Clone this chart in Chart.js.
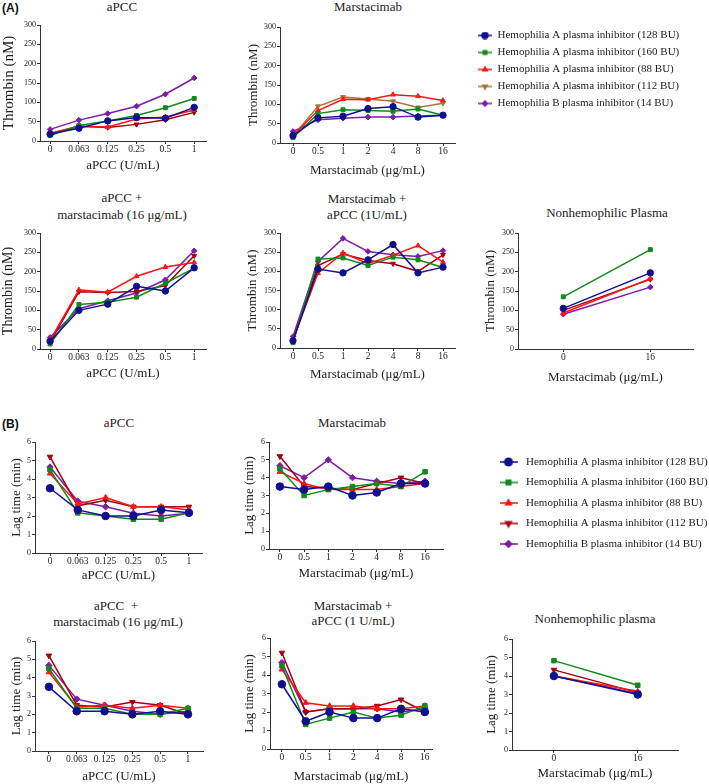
<!DOCTYPE html>
<html><head><meta charset="utf-8">
<script src="https://cdn.jsdelivr.net/npm/chart.js@4.4.1/dist/chart.umd.min.js"></script>
<style>
body{margin:0;background:#fff;}
#page{position:relative;width:709px;height:784px;overflow:hidden;background:#fff;font-family:"Liberation Serif","Times New Roman",serif;color:#222;}
canvas{position:absolute;}
.t{position:absolute;transform:translate(-50%,-50%);white-space:pre;font-size:13px;line-height:16px;}
.p{position:absolute;font-family:"Liberation Sans",Arial,sans-serif;font-weight:bold;font-size:12px;color:#111;}
</style></head><body><div id="page"></div>
<script>
// ---------- categories ----------
const aPCC_cats = ['0','0.063','0.125','0.25','0.5','1'];
const marst_cats = ['0','0.5','1','2','4','8','16'];
const nonhemo_cats = ['0','16'];

// ---------- series (order: 128 BU, 160 BU, 88 BU, 112 BU, 14 BU) ----------
const seriesNames = [
  'Hemophilia A plasma inhibitor (128 BU)',
  'Hemophilia A plasma inhibitor (160 BU)',
  'Hemophilia A plasma inhibitor (88 BU)',
  'Hemophilia A plasma inhibitor (112 BU)',
  'Hemophilia B plasma inhibitor (14 BU)'
];

// ---------- (A) thrombin peak, nM ----------
const thrombin_aPCC = [
  [18, 33, 52, 61, 59, 87],
  [14, 40, 52, 66, 86, 110],
  [20, 38, 36, 57, 62, 80],
  [18, 38, 35, 43, 55, 74],
  [30, 54, 71, 90, 121, 163]
];
const thrombin_marst = [
  [19, 65, 69, 89, 94, 67, 72],
  [14, 76, 86, 84, 82, 88, 72],
  [20, 84, 113, 112, 125, 121, 110],
  [18, 95, 119, 114, 108, 92, 103],
  [30, 60, 64, 67, 67, 70, 72]
];
const thrombin_aPCC_marst16 = [
  [20, 100, 116, 162, 150, 210],
  [13, 115, 121, 134, 170, 209],
  [22, 153, 147, 188, 212, 224],
  [18, 148, 146, 149, 164, 241],
  [30, 104, 125, 145, 179, 254]
];
const thrombin_marst_aPCC1 = [
  [19, 206, 196, 230, 270, 196, 211],
  [14, 232, 235, 215, 237, 230, 210],
  [22, 195, 248, 220, 242, 267, 224],
  [18, 215, 245, 228, 220, 200, 243],
  [30, 226, 286, 252, 243, 239, 254]
];
const thrombin_nonhemo = [
  [105, 197],
  [135, 257],
  [93, 182],
  [100, 180],
  [90, 160]
];

// ---------- (B) lag time, min ----------
const lag_aPCC = [
  [3.5, 2.33, 2.0, 2.0, 2.33, 2.17],
  [4.5, 2.17, 2.0, 1.83, 1.83, 2.17],
  [4.3, 2.65, 3.0, 2.5, 2.5, 2.33],
  [5.2, 2.55, 2.85, 2.5, 2.5, 2.5],
  [4.65, 2.8, 2.5, 2.15, 2.0, 2.15]
];
const lag_marst = [
  [3.5, 3.33, 3.5, 3.0, 3.17, 3.67, 3.67],
  [4.5, 3.0, 3.33, 3.5, 3.67, 3.5, 4.33],
  [4.33, 3.67, 3.33, 3.33, 3.33, 3.5, 3.67],
  [5.2, 3.5, 3.4, 3.33, 3.67, 4.0, 3.67],
  [4.67, 4.0, 5.0, 4.0, 3.8, 3.67, 3.8]
];
const lag_aPCC_marst16 = [
  [3.5, 2.17, 2.17, 2.0, 2.17, 2.0],
  [4.5, 2.33, 2.33, 2.0, 2.0, 2.33],
  [4.3, 2.4, 2.5, 2.33, 2.5, 2.33],
  [5.2, 2.5, 2.4, 2.67, 2.5, 2.0],
  [4.67, 2.83, 2.5, 2.17, 2.0, 2.17]
];
const lag_marst_aPCC1 = [
  [3.5, 1.5, 2.0, 1.67, 1.67, 2.17, 2.0],
  [4.5, 1.33, 1.67, 2.0, 1.67, 1.83, 2.33],
  [4.3, 2.5, 2.33, 2.33, 2.17, 2.17, 2.33],
  [5.2, 2.0, 2.17, 2.17, 2.33, 2.67, 2.0],
  [4.67, 2.0, 2.17, 2.17, 2.17, 2.0, 2.17]
];
const lag_nonhemo = [
  [4.0, 3.0],
  [4.83, 3.5],
  [4.0, 3.17],
  [4.33, 3.1],
  [4.0, 3.05]
];

// ---------- styles ----------
const FAM = "'Liberation Serif', 'Times New Roman', serif";
const BLUE='#10108f', GREEN='#12891a', RED='#ff1414', DRED='#a3000c', PURPLE='#7c1ca8', BROWN='#a5773a';
const colorsStd = [BLUE, GREEN, RED, DRED, PURPLE];
const colorsBrown = [BLUE, GREEN, RED, BROWN, PURPLE];
const markers = ['circle','rect','triangle','triangle','rectRot'];
const rotations = [0,0,0,180,0];

const page = document.getElementById('page');
Chart.defaults.font.family = FAM;
Chart.defaults.color = '#222';

function addText(cls, text, x, y){
  const d = document.createElement('div');
  d.className = cls; d.textContent = text;
  d.style.left = x+'px'; d.style.top = y+'px';
  page.appendChild(d);
}

function makeChart(sp){
  const lh = s => s*1.2;
  const cx = Math.max(0, Math.round(sp.yTx - lh(sp.yTs)/2));
  const cy = sp.T - 10;
  const padR = 15;
  const cw = sp.R + padR - cx;
  const ch = Math.round(sp.xTy + lh(sp.xTs)/2) - cy;
  const Wy = sp.L - cx;
  const Hx = cy + ch - sp.B;
  const cv = document.createElement('canvas');
  cv.width = cw; cv.height = ch;
  cv.style.left = cx+'px'; cv.style.top = cy+'px';
  page.appendChild(cv);
  const big = sp.big;
  const datasets = sp.values.map((vals, i) => ({
    label: seriesNames[i],
    data: vals.map((v, j) => ({x: j, y: v})),
    borderColor: sp.colors[i],
    backgroundColor: sp.colors[i],
    pointStyle: markers[i],
    pointRotation: rotations[i],
    pointRadius: i === 0 ? (big ? 3.8 : 3.2) : (big ? 3.2 : 2.8),
    pointBorderWidth: 1,
    borderWidth: 1.5,
    tension: 0
  }));
  const axisCol = '#333';
  new Chart(cv, {
    type: 'line',
    data: {datasets},
    options: {
      responsive: false, animation: false, events: [],
      layout: {padding: {left: 0, top: 10, right: padR, bottom: 0}},
      plugins: {legend: {display: false}, tooltip: {enabled: false}},
      scales: {
        x: {
          type: 'linear', min: sp.xmin, max: sp.xmax,
          afterBuildTicks: s => { s.ticks = sp.cats.map((c, i) => ({value: i})); },
          afterFit: s => { s.height = Hx; },
          ticks: {callback: v => sp.cats[v], autoSkip: false, maxRotation: 0, padding: 0,
                  font: {family: FAM, size: 9.5}, color: '#222'},
          grid: {display: true, drawOnChartArea: false, drawTicks: true, tickLength: 3, color: axisCol, tickColor: axisCol},
          border: {display: true, color: axisCol, width: 1},
          title: {display: true, text: sp.xTitle, font: {family: FAM, size: sp.xTs}, color: '#222', padding: 0}
        },
        y: {
          min: 0, max: sp.ymax,
          afterFit: s => { s.width = Wy; },
          ticks: {stepSize: sp.ystep, padding: 1, font: {family: FAM, size: 8}, color: '#222'},
          grid: {display: true, drawOnChartArea: false, drawTicks: true, tickLength: 3, color: axisCol, tickColor: axisCol},
          border: {display: true, color: axisCol, width: 1},
          title: {display: true, text: sp.yTitle, font: {family: FAM, size: sp.yTs}, color: '#222', padding: 0}
        }
      }
    }
  });
}

function makeIcon(color, i, w, h, r){
  const c = document.createElement('canvas');
  c.width = w; c.height = h;
  const ctx = c.getContext('2d');
  ctx.strokeStyle = color; ctx.lineWidth = 1.5;
  ctx.beginPath(); ctx.moveTo(0, h/2); ctx.lineTo(w, h/2); ctx.stroke();
  ctx.fillStyle = color;
  Chart.helpers.drawPoint(ctx, {pointStyle: markers[i], radius: r, rotation: rotations[i], borderWidth: 1}, w/2, h/2);
  ctx.fill();
  return c;
}

function makeLegend(lx, ly, colors, o){
  const cv = document.createElement('canvas');
  cv.width = 236; cv.height = 220;
  cv.style.left = lx+'px'; cv.style.top = ly+'px';
  page.appendChild(cv);
  const icons = colors.map((c, i) => makeIcon(c, i, o.iw, o.ih, i === 0 ? o.r + 0.5 : o.r));
  new Chart(cv, {
    type: 'line',
    data: {datasets: seriesNames.map((n, i) => ({label: n, data: [], borderColor: colors[i], backgroundColor: colors[i]}))},
    options: {
      responsive: false, animation: false, events: [],
      layout: {padding: 0},
      scales: {x: {display: false}, y: {display: false}},
      plugins: {
        tooltip: {enabled: false},
        legend: {
          display: true, position: 'top', align: 'start', maxHeight: 200,
          labels: {
            usePointStyle: true, pointStyleWidth: o.bw, padding: o.pad,
            font: {family: FAM, size: o.fs}, color: '#222',
            generateLabels: () => seriesNames.map((n, i) => ({
              text: n, pointStyle: icons[i], fillStyle: colors[i], strokeStyle: colors[i],
              lineWidth: 0, hidden: false, datasetIndex: i, fontColor: '#222'
            }))
          }
        }
      }
    }
  });
}

// ---------- panels ----------
const specs = [
  {cats: aPCC_cats, values: thrombin_aPCC, colors: colorsStd, ymax: 300, ystep: 25, yTitle: 'Thrombin (nM)', xTitle: 'aPCC (U/mL)',
   L: 40, R: 206, T: 25, B: 141, yTx: 7.5, yTs: 15, xTy: 165, xTs: 13, xmin: -0.35, xmax: 5.41},
  {cats: marst_cats, values: thrombin_marst, colors: colorsBrown, ymax: 300, ystep: 25, yTitle: 'Thrombin (nM)', xTitle: 'Marstacimab (μg/mL)',
   L: 280, R: 455, T: 27, B: 143, yTx: 254, yTs: 13, xTy: 170, xTs: 13, xmin: -0.52, xmax: 6.48},
  {cats: aPCC_cats, values: thrombin_aPCC_marst16, colors: colorsStd, ymax: 300, ystep: 25, yTitle: 'Thrombin (nM)', xTitle: 'aPCC (U/mL)',
   L: 40, R: 206, T: 233, B: 349, yTx: 7, yTs: 14, xTy: 373, xTs: 13, xmin: -0.35, xmax: 5.41},
  {cats: marst_cats, values: thrombin_marst_aPCC1, colors: colorsStd, ymax: 300, ystep: 25, yTitle: 'Thrombin (nM)', xTitle: 'Marstacimab (μg/mL)',
   L: 280, R: 455, T: 233, B: 348, yTx: 253, yTs: 13, xTy: 374, xTs: 13, xmin: -0.52, xmax: 6.48},
  {cats: nonhemo_cats, values: thrombin_nonhemo, colors: colorsStd, ymax: 300, ystep: 25, yTitle: 'Thrombin (nM)', xTitle: 'Marstacimab (μg/mL)',
   L: 518, R: 693, T: 233, B: 349, yTx: 491, yTs: 13, xTy: 377, xTs: 13, xmin: -0.52, xmax: 1.49},
  {cats: aPCC_cats, values: lag_aPCC, colors: colorsStd, ymax: 6, ystep: 1, yTitle: 'Lag time (min)', xTitle: 'aPCC (U/mL)', big: true,
   L: 35, R: 202, T: 442, B: 553, yTx: 17, yTs: 13, xTy: 575, xTs: 13, xmin: -0.54, xmax: 5.47},
  {cats: marst_cats, values: lag_marst, colors: colorsStd, ymax: 6, ystep: 1, yTitle: 'Lag time (min)', xTitle: 'Marstacimab (μg/mL)', big: true,
   L: 269, R: 443, T: 442, B: 549, yTx: 249.5, yTs: 13, xTy: 573, xTs: 13, xmin: -0.45, xmax: 6.74},
  {cats: aPCC_cats, values: lag_aPCC_marst16, colors: colorsStd, ymax: 6, ystep: 1, yTitle: 'Lag time (min)', xTitle: 'aPCC (U/mL)', big: true,
   L: 35, R: 203, T: 641, B: 751, yTx: 17, yTs: 13, xTy: 776, xTs: 13, xmin: -0.5, xmax: 5.54},
  {cats: marst_cats, values: lag_marst_aPCC1, colors: colorsStd, ymax: 6, ystep: 1, yTitle: 'Lag time (min)', xTitle: 'Marstacimab (μg/mL)', big: true,
   L: 270, R: 432, T: 638, B: 749, yTx: 250, yTs: 13, xTy: 776, xTs: 13, xmin: -0.5, xmax: 6.3},
  {cats: nonhemo_cats, values: lag_nonhemo, colors: colorsStd, ymax: 6, ystep: 1, yTitle: 'Lag time (min)', xTitle: 'Marstacimab (μg/mL)', big: true,
   L: 512, R: 678, T: 639, B: 750, yTx: 492, yTs: 13, xTy: 773, xTs: 13, xmin: -0.5, xmax: 1.48}
];

// panel titles (HTML text)
const titles = [
  ['aPCC', 122, 7], ['Marstacimab', 368, 7],
  ['aPCC +', 122, 198], ['marstacimab (16 μg/mL)', 122, 215],
  ['Marstacimab +', 367, 199], ['aPCC (1U/mL)', 367, 215],
  ['Nonhemophilic Plasma', 607, 213],
  ['aPCC', 119, 423], ['Marstacimab', 352, 423],
  ['aPCC  +', 116, 606], ['marstacimab (16 μg/mL)', 118, 622],
  ['Marstacimab +', 353, 606], ['aPCC (1 U/mL)', 353, 621],
  ['Nonhemophilic plasma', 595, 619]
];
titles.forEach(t => addText('t', t[0], t[1], t[2]));
addText('p', '(A)', 2, 1);
addText('p', '(B)', 2, 417);

function drawAll(){
  specs.forEach(makeChart);
  makeLegend(472, 23.5, colorsBrown, {fs: 11, pad: 6, bw: 14, iw: 14, ih: 8, r: 2.5});
  makeLegend(486.5, 447, colorsStd, {fs: 11, pad: 9.5, bw: 24, iw: 18, ih: 10, r: 3.3});
}
Promise.all([
  document.fonts.load("12px 'Liberation Serif'"),
  document.fonts.load("12px 'Liberation Sans'")
]).then(drawAll, drawAll);
</script></body></html>
